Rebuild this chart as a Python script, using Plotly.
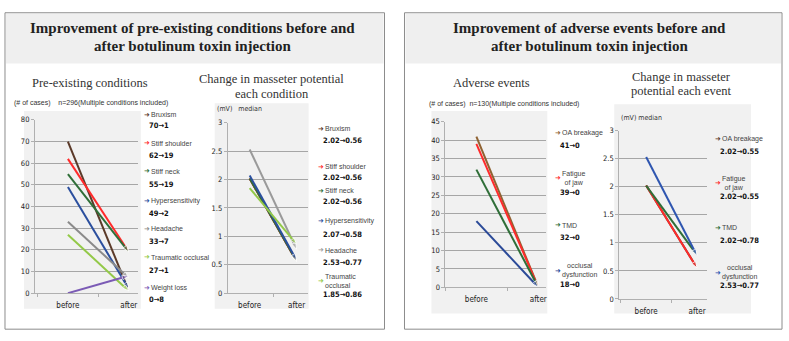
import plotly.graph_objects as go

# ---------------- data ----------------
cond_names = ["Bruxism", "Stiff shoulder", "Stiff neck", "Hypersensitivity",
              "Headache", "Traumatic occlusal", "Weight loss"]
cond_before = [70, 62, 55, 49, 33, 27, 0]
cond_after = [1, 19, 19, 2, 7, 1, 8]

mvc_names = ["Bruxism", "Stiff shoulder", "Stiff neck", "Hypersensitivity",
             "Headache", "Traumatic<br>occlusal"]
mvc_before = [2.02, 2.02, 2.02, 2.07, 2.53, 1.85]
mvc_after = [0.56, 0.56, 0.56, 0.58, 0.77, 0.86]

adv_names = ["OA breakage", "Fatigue<br>of jaw", "TMD", "occlusal<br>dysfunction"]
adv_before = [41, 39, 32, 18]
adv_after = [0, 0, 0, 0]

mva_names = ["OA breakage", "Fatigue<br>of jaw", "TMD", "occlusal<br>dysfunction"]
mva_before = [2.02, 2.02, 2.02, 2.53]
mva_after = [0.55, 0.55, 0.78, 0.77]

periods = ["before", "after"]

# ---------------- styles ----------------
cond_colors = ["#5b3a29", "#ff2b2b", "#2f6e38", "#2b4f9e", "#8a8a8a", "#93c948", "#7b5bb5"]
mvc_colors = ["#5b3a29", "#ff2b2b", "#2f6e38", "#2b4f9e", "#9a9a9a", "#93c948"]
adv_colors = ["#8f6232", "#ff2b2b", "#2f6e38", "#2b4a98"]
mva_colors = ["#5b3a29", "#ff2b2b", "#2f6e38", "#2f56b0"]

W, H = 789, 341
SERIF = "Liberation Serif, Times New Roman, serif"
SANS = "Liberation Sans, Arial, sans-serif"
NARROW = "Liberation Sans Narrow, DejaVu Sans Condensed, Arial Narrow, sans-serif"


def px(x):
    return x / W


def py(y):
    return 1 - y / H


fig = go.Figure()

# axis geometry (pixel boxes) for the four panels
panels = [
    dict(x0=35, x1=138, ytop=119, ybot=297, xr=[-0.541, 1.148], yr=[0, 80], dt=10),
    dict(x0=228, x1=308, ytop=122, ybot=297, xr=[-0.468, 1.234], yr=[0, 3], dt=0.5),
    dict(x0=446, x1=547, ytop=121, ybot=291, xr=[-0.5, 1.129], yr=[0, 45], dt=5),
    dict(x0=620, x1=708, ytop=130, ybot=303, xr=[-0.529, 1.196], yr=[0, 3], dt=0.5),
]

series = [
    (cond_names, cond_before, cond_after, cond_colors),
    (mvc_names, mvc_before, mvc_after, mvc_colors),
    (adv_names, adv_before, adv_after, adv_colors),
    (mva_names, mva_before, mva_after, mva_colors),
]

for i, (p, (names, bef, aft, cols)) in enumerate(zip(panels, series)):
    k = "" if i == 0 else str(i + 1)
    xa, ya = "x" + k, "y" + k
    for n, b, a, c in zip(names, bef, aft, cols):
        fig.add_trace(go.Scatter(
            x=periods, y=[b, a], xaxis=xa, yaxis=ya, mode="lines+markers",
            line=dict(color=c, width=2),
            marker=dict(symbol="arrow", angleref="previous", size=[0, 7], color=c),
            showlegend=False, hoverinfo="skip", cliponaxis=False,
        ))
    fig.layout["xaxis" + k] = dict(
        domain=[px(p["x0"]), px(p["x1"])], range=p["xr"], anchor=ya,
        type="category", showgrid=False, showline=True, linecolor="#b0b0b0",
        ticks="outside", tickson="boundaries", ticklen=3, tickcolor="#b0b0b0",
        ticklabelstandoff=4, zeroline=False,
        tickfont=dict(family=NARROW, size=8, color="#222"),
    )
    fig.layout["yaxis" + k] = dict(
        domain=[py(p["ybot"]), py(p["ytop"])], range=p["yr"], anchor=xa,
        dtick=p["dt"], showgrid=True, gridcolor="#a6a6a6", gridwidth=1,
        showline=True, linecolor="#b0b0b0", ticks="outside", ticklen=3,
        tickcolor="#b0b0b0", zeroline=False,
        tickfont=dict(family=NARROW, size=7.5, color="#222"),
    )

shapes = []
# outer frames and header bands
for x0, x1 in [(5, 385), (405, 783)]:
    shapes.append(dict(type="rect", xref="paper", yref="paper", x0=px(x0 + 1), x1=px(x1 - 1),
                       y0=py(61), y1=py(10), fillcolor="#efefef", line=dict(width=0), layer="below"))
    shapes.append(dict(type="rect", xref="paper", yref="paper", x0=px(x0), x1=px(x1),
                       y0=py(334), y1=py(9), fillcolor="rgba(0,0,0,0)",
                       line=dict(color="#8c8c8c", width=1), layer="below"))
# light-grey chart backgrounds
for x0, x1, y0, y1 in [(24, 141, 110, 313), (215, 309, 102, 313),
                       (432, 548, 110, 318), (615, 752, 103, 318)]:
    shapes.append(dict(type="rect", xref="paper", yref="paper", x0=px(x0), x1=px(x1),
                       y0=py(y1), y1=py(y0), fillcolor="#f1f1f1", line=dict(width=0), layer="below"))

ann = []


def text(x, y, s, size, family=SANS, color="#222", xanchor="center", bold=False, align="center"):
    ann.append(dict(xref="paper", yref="paper", x=px(x), y=py(y), text=f"<b>{s}</b>" if bold else s,
                    showarrow=False, xanchor=xanchor, yanchor="middle", align=align,
                    font=dict(family=family, size=size, color=color)))


# headers
text(193, 25, "Improvement of pre-existing conditions before and", 15, SERIF, "#222", bold=True)
text(193, 43, "after botulinum toxin injection", 15, SERIF, "#222", bold=True)
text(590, 25, "Improvement of adverse events before and", 15, SERIF, "#222", bold=True)
text(590, 43, "after botulinum toxin injection", 15, SERIF, "#222", bold=True)

# chart titles
text(90, 81, "Pre-existing conditions", 12.5, SERIF, "#333")
text(272, 77, "Change in masseter potential", 12.5, SERIF, "#333")
text(272, 92, "each condition", 12.5, SERIF, "#333")
text(492, 81, "Adverse events", 12.5, SERIF, "#333")
text(682, 75, "Change in masseter", 12.5, SERIF, "#333")
text(682, 89, "potential each event", 12.5, SERIF, "#333")

# axis captions
text(12, 102, "(# of cases)&nbsp;&nbsp;&nbsp;&nbsp;n=296(Multiple conditions included)", 7, SANS, "#333", "left")
text(215, 108, "(mV)&nbsp;&nbsp;&nbsp;median", 7, NARROW, "#333", "left")
text(428, 103, "(# of cases)&nbsp;&nbsp;n=130(Multiple conditions included)", 7, SANS, "#333", "left")
text(620, 117, "(mV)&nbsp;median", 7, NARROW, "#333", "left")


def fmt(v):
    return f"{v:g}" if isinstance(v, int) else f"{v:.2f}"


def legend(names, bef, aft, cols, x_arrow, ys_label, ys_value, align="center"):
    for n, b, a, c, yl, yv in zip(names, bef, aft, cols, ys_label, ys_value):
        text(x_arrow, yl, f"<span style='color:{c}'>➜</span>", 7, "DejaVu Sans", c, "left")
        text(x_arrow + 7, yl, n, 7, SANS, "#444", "left", align=align)
        text(x_arrow + 5, yv, f"{fmt(b)}→{fmt(a)}", 7.5, NARROW, "#111", "left", bold=True)


legend(cond_names, cond_before, cond_after, cond_colors, 142,
       [114, 143, 172, 202, 231, 260, 292], [125, 156, 185, 215, 244, 274, 304])
legend(mvc_names, mvc_before, mvc_after, mvc_colors, 316,
       [128, 167, 192, 223, 253, 285], [140, 178, 203, 237, 266, 298], align="left")
legend(adv_names, adv_before, adv_after, adv_colors, 554,
       [133, 179, 227, 274], [145, 194, 240, 288])
legend(mva_names, mva_before, mva_after, mva_colors, 714,
       [139, 184, 230, 276], [151, 198, 243, 289])

fig.update_layout(width=W, height=H, margin=dict(l=0, r=0, t=0, b=0),
                  paper_bgcolor="white", plot_bgcolor="rgba(0,0,0,0)",
                  shapes=shapes, annotations=ann, showlegend=False)

fig.write_html("out.html")
